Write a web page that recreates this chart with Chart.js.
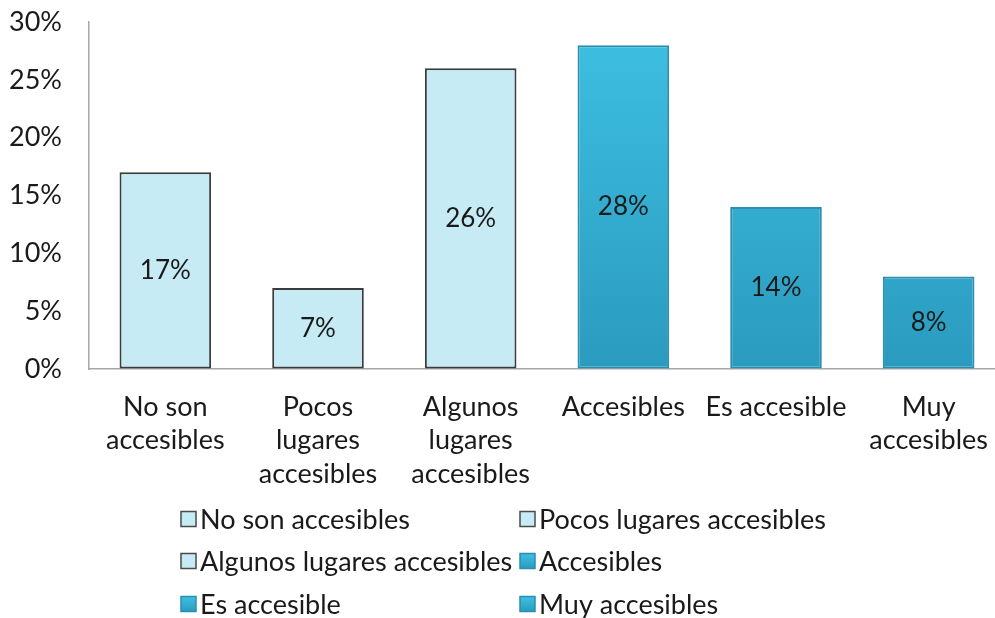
<!DOCTYPE html>
<html>
<head>
<meta charset="utf-8">
<script src="https://cdn.jsdelivr.net/npm/chart.js@4.4.1/dist/chart.umd.min.js"></script>
<style>
html, body { margin: 0; padding: 0; background: #fff; overflow: hidden; width: 995px; height: 618px; }
#wrap { width: 1005px; height: 618px; }
</style>
</head>
<body>
<div id="wrap"><canvas id="chart"></canvas></div>
<script>
// datos del gráfico
const categories = [
    ['No son', 'accesibles'],
    ['Pocos', 'lugares', 'accesibles'],
    ['Algunos', 'lugares', 'accesibles'],
    ['Accesibles'],
    ['Es accesible'],
    ['Muy', 'accesibles']
];
const legendNames = ['No son accesibles', 'Pocos lugares accesibles', 'Algunos lugares accesibles', 'Accesibles', 'Es accesible', 'Muy accesibles'];
const values = [17, 7, 26, 28, 14, 8];
const barGroup = ['light', 'light', 'light', 'dark', 'dark', 'dark'];
const yTicks = [0, 5, 10, 15, 20, 25, 30];

const FONT = 'Lato, "Open Sans", sans-serif';
const TEXT = '#1a1a1a';

function darkFill(ctx, top, bottom) {
    const g = ctx.createLinearGradient(0, top, 0, bottom);
    g.addColorStop(0, '#3ec0e3');
    g.addColorStop(1, '#2a9bbf');
    return g;
}

// etiquetas dentro de las barras
const valueLabels = {
    id: 'valueLabels',
    afterDatasetsDraw(chart) {
        const ctx = chart.ctx;
        const meta = chart.getDatasetMeta(0);
        ctx.save();
        ctx.font = '26px ' + FONT;
        ctx.fillStyle = TEXT;
        ctx.textAlign = 'center';
        ctx.textBaseline = 'middle';
        meta.data.forEach((bar, i) => {
            ctx.fillText(values[i] + '%', bar.x, (bar.y + bar.base) / 2);
        });
        ctx.restore();
    }
};

// leyenda en dos columnas
const twoColLegend = {
    id: 'twoColLegend',
    afterDraw(chart) {
        const ctx = chart.ctx;
        const colX = [181, 520];
        const rowY = [519, 561, 604];
        ctx.save();
        ctx.font = '27px ' + FONT;
        ctx.textBaseline = 'middle';
        ctx.textAlign = 'left';
        legendNames.forEach((name, i) => {
            const x = colX[i % 2];
            const y = rowY[Math.floor(i / 2)];
            const s = 15;
            if (barGroup[i] === 'light') {
                ctx.fillStyle = '#c6ebf5';
                ctx.strokeStyle = '#4a4a4a';
            } else {
                ctx.fillStyle = darkFill(ctx, y - s / 2, y + s / 2);
                ctx.strokeStyle = '#2b8fb0';
            }
            ctx.lineWidth = 1.5;
            ctx.fillRect(x, y - s / 2, s, s);
            ctx.strokeRect(x, y - s / 2, s, s);
            ctx.fillStyle = TEXT;
            ctx.fillText(name, x + 19, y + 1);
        });
        ctx.restore();
    }
};

function noPad(scale) {
    scale.paddingTop = 0;
    scale.paddingBottom = 0;
    scale.paddingLeft = 0;
    scale.paddingRight = 0;
}

new Chart(document.getElementById('chart'), {
    type: 'bar',
    data: {
        labels: categories,
        datasets: [{
            data: values,
            backgroundColor: (c) => {
                if (barGroup[c.dataIndex] === 'light') return '#c6ebf5';
                const area = c.chart.chartArea;
                if (!area) return '#34b3d8';
                return darkFill(c.chart.ctx, area.top, area.bottom);
            },
            borderColor: (c) => barGroup[c.dataIndex] === 'light' ? '#3c3c3c' : '#2a8fae',
            borderWidth: 2,
            borderSkipped: false,
            categoryPercentage: 1,
            barPercentage: 0.6
        }]
    },
    options: {
        responsive: true,
        maintainAspectRatio: false,
        animation: false,
        layout: { padding: { top: 22, right: 0, left: 0, bottom: 0 } },
        plugins: {
            legend: { display: false },
            tooltip: { enabled: false }
        },
        scales: {
            x: {
                grid: { display: true, color: 'transparent', drawTicks: false },
                border: { color: '#a6a6a6', width: 1.5 },
                ticks: {
                    color: TEXT,
                    font: { family: FONT, size: 27, lineHeight: 1.25 },
                    padding: 21,
                    maxRotation: 0,
                    autoSkip: false
                },
                afterFit(scale) { scale.height = 249; noPad(scale); }
            },
            y: {
                min: 0,
                max: 30,
                grid: { display: true, color: 'transparent', drawTicks: false },
                border: { color: '#a6a6a6', width: 1.5 },
                afterBuildTicks(scale) { scale.ticks = yTicks.map(v => ({ value: v })); },
                ticks: {
                    color: TEXT,
                    font: { family: FONT, size: 27 },
                    padding: 27,
                    callback: (v) => v + '%'
                },
                afterFit(scale) { scale.width = 89; noPad(scale); }
            }
        }
    },
    plugins: [valueLabels, twoColLegend]
});
</script>
</body>
</html>
